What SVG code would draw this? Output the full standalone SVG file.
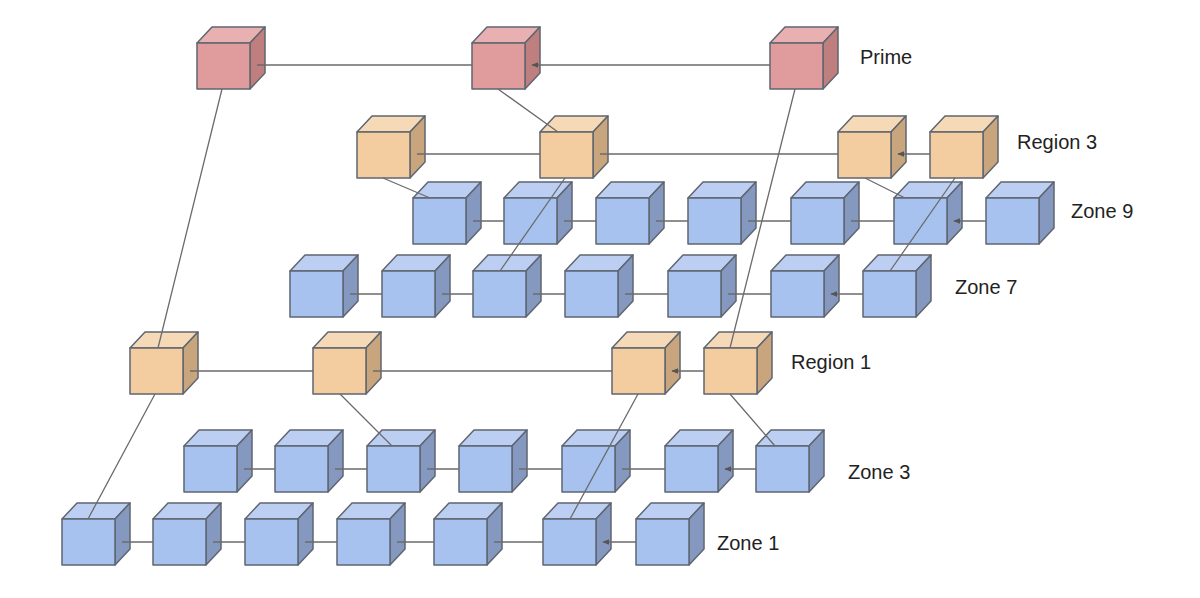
<svg xmlns="http://www.w3.org/2000/svg" xmlns:xlink="http://www.w3.org/1999/xlink" width="1200" height="598" viewBox="0 0 1200 598">
<style>
.e{stroke:#5f6670;stroke-width:1.5;stroke-linejoin:round}
.l{stroke:#6b6b6b;stroke-width:1.3;fill:none}
.a{marker-end:url(#ah)}
text{font-family:"Liberation Sans",Arial,sans-serif;font-size:20px;fill:#222}
</style>
<defs>
<marker id="ah" viewBox="0 0 10 10" refX="9" refY="5" markerWidth="7" markerHeight="7" orient="auto" markerUnits="userSpaceOnUse"><path d="M0,1 L10,5 L0,9 z" fill="#555"/></marker>
<g id="cR" class="e"><polygon points="0,0 15,-16 68,-16 53,0" fill="#e8b0b0"/><polygon points="53,0 68,-16 68,30 53,46" fill="#bf7f7f"/><rect width="53" height="46" fill="#e09c9c"/></g>
<g id="cO" class="e"><polygon points="0,0 15,-16 68,-16 53,0" fill="#f6dab8"/><polygon points="53,0 68,-16 68,30 53,46" fill="#c9a57d"/><rect width="53" height="46" fill="#f3cda0"/></g>
<g id="cB" class="e"><polygon points="0,0 15,-16 68,-16 53,0" fill="#bccff2"/><polygon points="53,0 68,-16 68,30 53,46" fill="#8598c0"/><rect width="53" height="46" fill="#a7c2ee"/></g>
</defs>
<g id="nodes">
<g id="prime"><use href="#cR" x="197" y="43"/><use href="#cR" x="472" y="43"/><use href="#cR" x="770" y="43"/></g>
<g id="region3"><use href="#cO" x="357" y="132"/><use href="#cO" x="540" y="132"/><use href="#cO" x="838" y="132"/><use href="#cO" x="930" y="132"/></g>
<g id="zone9"><use href="#cB" x="413" y="198"/><use href="#cB" x="504" y="198"/><use href="#cB" x="596" y="198"/><use href="#cB" x="688" y="198"/><use href="#cB" x="791" y="198"/><use href="#cB" x="894" y="198"/><use href="#cB" x="986" y="198"/></g>
<g id="zone7"><use href="#cB" x="290" y="271"/><use href="#cB" x="382" y="271"/><use href="#cB" x="473" y="271"/><use href="#cB" x="565" y="271"/><use href="#cB" x="668" y="271"/><use href="#cB" x="771" y="271"/><use href="#cB" x="863" y="271"/></g>
<g id="region1"><use href="#cO" x="130" y="348"/><use href="#cO" x="313" y="348"/><use href="#cO" x="612" y="348"/><use href="#cO" x="704" y="348"/></g>
<g id="zone3"><use href="#cB" x="184" y="446"/><use href="#cB" x="275" y="446"/><use href="#cB" x="367" y="446"/><use href="#cB" x="459" y="446"/><use href="#cB" x="562" y="446"/><use href="#cB" x="665" y="446"/><use href="#cB" x="756" y="446"/></g>
<g id="zone1"><use href="#cB" x="62" y="519"/><use href="#cB" x="153" y="519"/><use href="#cB" x="245" y="519"/><use href="#cB" x="337" y="519"/><use href="#cB" x="434" y="519"/><use href="#cB" x="543" y="519"/><use href="#cB" x="636" y="519"/></g>
</g>
<g id="connectors">
<path class="l a" d="M472,65H257M770,65H532"/>
<path class="l a" d="M540,154H417M838,154H600M930,154H898"/>
<path class="l a" d="M504,221H473M596,221H564M688,221H656M791,221H748M894,221H851M986,221H954"/>
<path class="l a" d="M382,294H350M473,294H442M565,294H533M668,294H625M771,294H728M863,294H831"/>
<path class="l a" d="M313,371H190M612,371H373M704,371H672"/>
<path class="l a" d="M275,469H244M367,469H335M459,469H427M562,469H519M665,469H622M756,469H725"/>
<path class="l a" d="M153,542H122M245,542H213M337,542H305M434,542H397M543,542H494M636,542H603"/>
<path class="l" d="M222,89L158,348M155,394L88,519M498,89L558,132M565,178L500,271M383,178L430,198M795,89L730,348M865,178L905,198M955,178L890,271M340,394L392,446M638,394L570,519M730,394L775,446"/>
</g>
<g id="labels">
<text x="860" y="64">Prime</text>
<text x="1017" y="149">Region 3</text>
<text x="1071" y="218">Zone 9</text>
<text x="955" y="294">Zone 7</text>
<text x="791" y="369">Region 1</text>
<text x="848" y="479">Zone 3</text>
<text x="717" y="550">Zone 1</text>
</g>
</svg>
